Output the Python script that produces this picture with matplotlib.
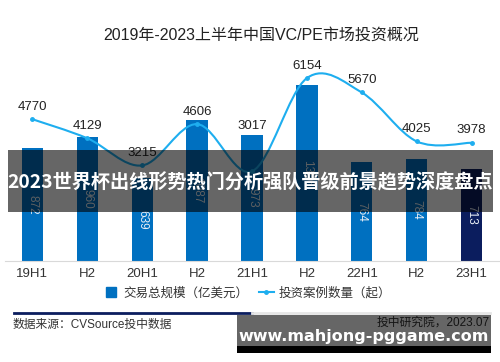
import numpy as np
import matplotlib.pyplot as plt
from matplotlib.path import Path
from matplotlib.patches import PathPatch, Rectangle
from matplotlib.lines import Line2D

plt.rcParams['font.family'] = ['Liberation Sans', 'Noto Sans CJK SC', 'DejaVu Sans']

periods = ['19H1', 'H2', '20H1', 'H2', '21H1', 'H2', '22H1', 'H2', '23H1']
deal_value = [872, 960, 639, 1087, 973, 1356, 764, 784, 713]      # 交易总规模（亿美元）
deal_count = [4770, 4129, 3215, 4606, 3017, 6154, 5670, 4025, 3978]  # 投资案例数量（起）

blue = '#0070C0'
navy = '#0B1D5E'
light = '#1EAEEF'

fig = plt.figure(figsize=(5, 3.62), dpi=100)
ax = fig.add_axes([0.01, 0.279, 0.988, 0.555])
x = np.arange(len(periods))
colors = [blue] * (len(periods) - 1) + [navy]
bars = ax.bar(x, deal_value, width=0.39, color=colors, zorder=2)
for b, v in zip(bars, deal_value):
    ax.text(b.get_x() + b.get_width() / 2, v / 2, str(v), rotation=270,
            ha='center', va='center', fontsize=8.5, color='#e8eef5', zorder=3)
ax.set_xlim(-0.5, 8.5)
ax.set_ylim(0, 1550)
ax.set_yticks([])
ax.set_xticks(x)
ax.set_xticklabels(periods, fontsize=9.5, color='#333333')
ax.tick_params(axis='x', length=0, pad=5)
for s in ['top', 'left', 'right']:
    ax.spines[s].set_visible(False)
ax.spines['bottom'].set_color('#d9d9d9')

# smoothed line for case count
ax2 = ax.twinx()
ax2.set_ylim(0, 6760)
ax2.set_yticks([])
for s in ax2.spines.values():
    s.set_visible(False)
pts = np.column_stack([x, deal_count]).astype(float)
ext = np.vstack([pts[0], pts, pts[-1]])
verts = [tuple(pts[0])]
codes = [Path.MOVETO]
for i in range(len(pts) - 1):
    p0, p1, p2, p3 = ext[i], ext[i + 1], ext[i + 2], ext[i + 3]
    c1 = p1 + (p2 - p0) / 6
    c2 = p2 - (p3 - p1) / 6
    verts += [tuple(c1), tuple(c2), tuple(p2)]
    codes += [Path.CURVE4] * 3
ax2.add_patch(PathPatch(Path(verts, codes), facecolor='none', edgecolor=light, lw=1.5, zorder=4))
ax2.plot(x, deal_count, 'o', color=light, ms=2.5, zorder=5)
for i, (xi, v) in enumerate(zip(x, deal_count)):
    dy = 33 if i == 4 else 9   # 21H1 label sits above its bar
    ax2.annotate(str(v), (xi, v), xytext=(0, dy), textcoords='offset points',
                 ha='center', va='center', fontsize=9.5, color='#222222')

# legend
handles = [Line2D([], [], marker='s', ls='none', color=blue, ms=7),
           Line2D([], [], marker='o', color=light, lw=1.5, ms=2.5)]
fig.legend(handles, ['交易总规模（亿美元）', '投资案例数量（起）'], loc='center',
           bbox_to_anchor=(0.495, 0.19), ncol=2, frameon=False, fontsize=9,
           handlelength=1.2, handletextpad=0.4, columnspacing=0.8, labelcolor='#333333')

fig.text(0.522, 0.903, '2019年-2023上半年中国VC/PE市场投资概况', ha='center', va='center',
         fontsize=11.5, color='#222222')

# footer
fig.add_artist(Line2D([0.028, 0.504], [0.136, 0.136], color='#0B1D5E', lw=2))
fig.add_artist(Line2D([0.504, 0.98], [0.136, 0.136], color='#e6e6e6', lw=2))
fig.text(0.026, 0.102, '数据来源：CVSource投中数据', ha='left', va='center', fontsize=8.5, color='#333333')
fig.text(0.98, 0.108, '投中研究院，2023.07', ha='right', va='center', fontsize=8.5, color='#333333')

# overlays
fig.add_artist(Rectangle((0.016, 0.414), 0.97, 0.171, transform=fig.transFigure,
                         facecolor='black', alpha=0.6, edgecolor='none', zorder=10))
fig.text(0.5, 0.495, '2023世界杯出线形势热门分析强队晋级前景趋势深度盘点', ha='center', va='center',
         fontsize=13.8, fontweight='bold', color='white', family=['Noto Sans CJK SC', 'DejaVu Sans'],
         zorder=11)
fig.add_artist(Rectangle((0.474, 0.042), 0.508, 0.088, transform=fig.transFigure,
                         facecolor='black', alpha=0.6, edgecolor='none', zorder=10))
fig.add_artist(Rectangle((0.474, 0.026), 0.508, 0.017, transform=fig.transFigure,
                         facecolor='black', edgecolor='none', zorder=10))
fig.text(0.727, 0.07, 'www.mahjong-pggame.com', ha='center', va='center', fontsize=11.5,
         fontweight='bold', color='white', family='DejaVu Sans', zorder=11)

fig.savefig('out.png', dpi=100)
